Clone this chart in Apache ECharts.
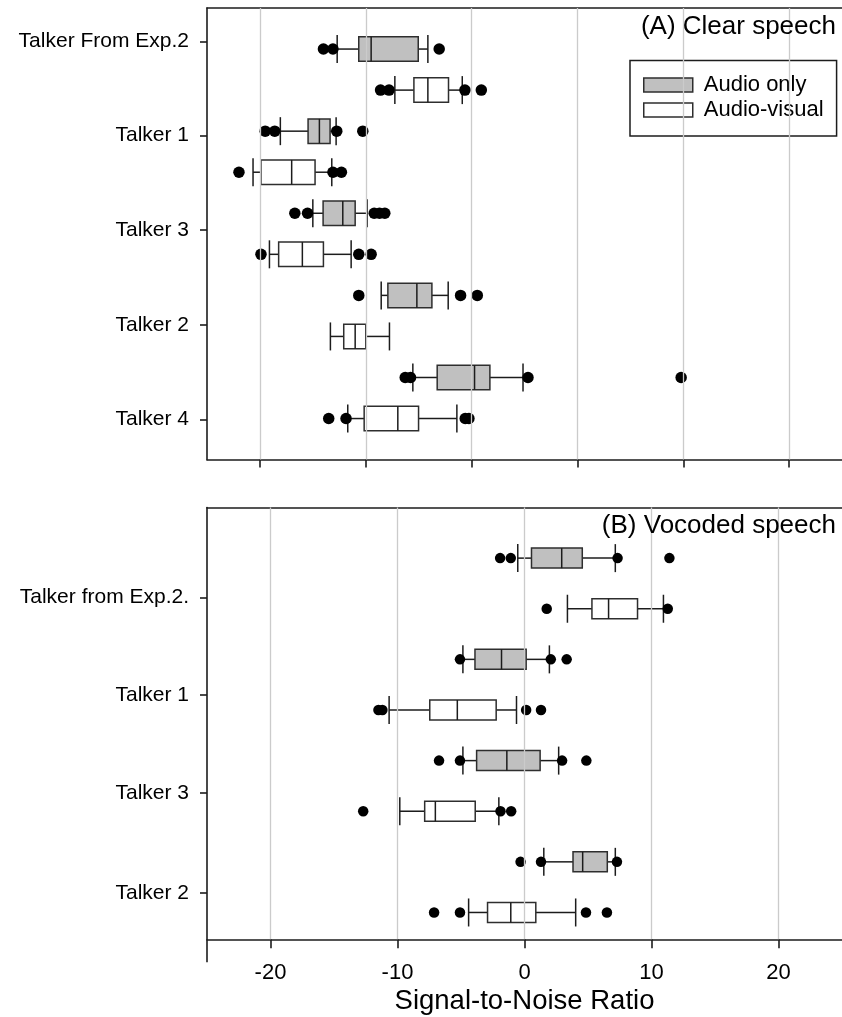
<!DOCTYPE html>
<html>
<head>
<meta charset="utf-8">
<script src="https://cdn.jsdelivr.net/npm/echarts@6/dist/echarts.min.js"></script>
<style>
  html, body { margin: 0; padding: 0; background: #fff; }
  #chart { width: 842px; height: 1017px; }
</style>
</head>
<body>
<div id="chart"></div>
<script>
// ---- (A) Clear speech ----------------------------------------------------
const clearTalkers = ['Talker From Exp.2', 'Talker 1', 'Talker 3', 'Talker 2', 'Talker 4'];
// each box: [lower whisker, Q1, median, Q3, upper whisker]
const clearAudioOnly = [
  [-12.7, -10.66, -9.49, -5.04, -4.13],
  [-18.07, -15.45, -14.38, -13.37, -12.8],
  [-15.0, -14.03, -12.17, -11.0, -9.87],
  [-8.54, -7.91, -5.17, -3.75, -2.21],
  [-5.55, -3.25, 0.28, 1.73, 4.86]
];
const clearAudioVisual = [
  [-7.25, -5.45, -4.13, -2.18, -0.88],
  [-20.65, -19.9, -17.0, -14.79, -13.21],
  [-19.1, -18.23, -15.99, -14.0, -11.38],
  [-13.34, -12.08, -11.0, -10.0, -7.76],
  [-11.7, -10.15, -6.97, -5.01, -1.39]
];
const clearAudioOnlyOutliers = [
  [-14.0, -13.1, -3.06],
  [-19.5, -18.6, -12.74, -10.28],
  [-16.7, -15.5, -9.2, -8.7, -8.2],
  [-10.66, -1.04, 0.54],
  [-6.27, -5.77, 5.33, 19.8]
];
const clearAudioVisualOutliers = [
  [-8.6, -7.8, -0.63, 0.92],
  [-21.98, -13.1, -12.3],
  [-19.9, -10.66, -9.49],
  [],
  [-13.5, -11.86, -0.6, -0.25]
];
const clearTicks = [-20, -10, 0, 10, 20, 30];
// talker label rows, in box-row units (row 0 = first box)
const clearLabelRows = [-0.19, 2.11, 4.41, 6.72, 9.02];

// ---- (B) Vocoded speech --------------------------------------------------
const vocodedTalkers = ['Talker from Exp.2.', 'Talker 1', 'Talker 3', 'Talker 2'];
const vocodedAudioOnly = [
  [-0.53, 0.55, 2.93, 4.55, 7.15],
  [-4.85, -3.9, -1.81, 0.13, 1.96],
  [-4.85, -3.77, -1.39, 1.23, 2.69],
  [1.52, 3.82, 4.58, 6.52, 7.15]
];
const vocodedAudioVisual = [
  [3.38, 5.31, 6.62, 8.9, 10.94],
  [-10.66, -7.46, -5.29, -2.23, -0.63],
  [-9.82, -7.86, -7.02, -3.88, -2.02],
  [-4.4, -2.91, -1.08, 0.89, 4.03]
];
const vocodedAudioOnlyOutliers = [
  [-1.92, -1.08, 7.33, 11.41],
  [-5.08, 2.07, 3.32],
  [-6.73, -5.08, 2.96, 4.87],
  [-0.31, 1.3, 7.28]
];
const vocodedAudioVisualOutliers = [
  [1.75, 11.28],
  [-11.5, -11.19, 0.13, 1.3],
  [-12.7, -1.89, -1.05],
  [-7.12, -5.08, 4.84, 6.49]
];
const vocodedTicks = [-20, -10, 0, 10, 20];
const vocodedLabelRows = [0.78, 2.70, 4.64, 6.61];

const seriesNames = ['Audio only', 'Audio-visual'];

// ---- styling ------------------------------------------------------------
const FONT = '"Liberation Sans", Arial, sans-serif';
const INK = '#1c1c1c';
const BOX_EDGE = '#2e2e2e';
const FILL_AO = '#c0c0c0';
const FILL_AV = '#ffffff';
const GRID_LINE = '#cbcbcb';

function nearestIndex(arr, v) {
  let best = 0;
  arr.forEach((a, i) => { if (Math.abs(a - v) < Math.abs(arr[best] - v)) best = i; });
  return best;
}

// box rows: audio-only boxes on even rows, audio-visual on odd rows
function boxData(boxes, offset) {
  return boxes.map((b, t) => [2 * t + offset].concat(b));
}
function outlierData(lists, offset) {
  const out = [];
  lists.forEach((vals, t) => vals.forEach(v => out.push([v, 2 * t + offset])));
  return out;
}

function boxRenderer(boxH, capH) {
  return function (params, api) {
    const row = api.value(0);
    const p = [1, 2, 3, 4, 5].map(i => api.coord([api.value(i), row]));
    const y = p[0][1];
    const fill = api.visual('color');
    const seg = (x1, y1, x2, y2) => ({
      type: 'line', shape: { x1, y1, x2, y2 },
      style: { stroke: INK, lineWidth: 1.5 }
    });
    return {
      type: 'group',
      children: [
        seg(p[0][0], y, p[1][0], y),
        seg(p[3][0], y, p[4][0], y),
        seg(p[0][0], y - capH / 2, p[0][0], y + capH / 2),
        seg(p[4][0], y - capH / 2, p[4][0], y + capH / 2),
        {
          type: 'rect',
          shape: { x: p[1][0], y: y - boxH / 2, width: p[3][0] - p[1][0], height: boxH },
          style: { fill, stroke: BOX_EDGE, lineWidth: 1.5 }
        },
        seg(p[2][0], y - boxH / 2, p[2][0], y + boxH / 2)
      ]
    };
  };
}

function panelSeries(idx, ao, av, aoOut, avOut, ticks, boxH, capH, dot) {
  const dotStyle = { color: '#000', opacity: 1 };
  return [
    {
      // vertical grid lines
      type: 'scatter', xAxisIndex: idx, yAxisIndex: idx, data: [], silent: true, z: 0,
      markLine: {
        silent: true, symbol: ['none', 'none'], animation: false,
        label: { show: false },
        lineStyle: { color: GRID_LINE, width: 1.3, type: 'solid' },
        emphasis: { disabled: true },
        data: ticks.map(v => ({ xAxis: v }))
      }
    },
    {
      name: seriesNames[0], type: 'custom', xAxisIndex: idx, yAxisIndex: idx, z: 2,
      itemStyle: { color: FILL_AO },
      encode: { x: [1, 2, 3, 4, 5], y: 0 },
      renderItem: boxRenderer(boxH, capH),
      data: boxData(ao, 0)
    },
    {
      name: seriesNames[1], type: 'custom', xAxisIndex: idx, yAxisIndex: idx, z: 2,
      itemStyle: { color: FILL_AV },
      encode: { x: [1, 2, 3, 4, 5], y: 0 },
      renderItem: boxRenderer(boxH, capH),
      data: boxData(av, 1)
    },
    {
      name: seriesNames[0], type: 'scatter', xAxisIndex: idx, yAxisIndex: idx, z: 3,
      symbol: 'circle', symbolSize: dot, itemStyle: dotStyle,
      data: outlierData(aoOut, 0)
    },
    {
      name: seriesNames[1], type: 'scatter', xAxisIndex: idx, yAxisIndex: idx, z: 3,
      symbol: 'circle', symbolSize: dot, itemStyle: dotStyle,
      data: outlierData(avOut, 1)
    }
  ];
}

const axisLineStyle = { color: INK, width: 1.6 };

function yAxisFor(idx, rows, names, min, max) {
  return {
    gridIndex: idx, type: 'value', inverse: true, min, max,
    axisLine: { show: true, onZero: false, lineStyle: axisLineStyle },
    axisTick: { show: true, customValues: rows, length: 7, lineStyle: axisLineStyle },
    axisLabel: {
      customValues: rows, margin: 18, fontSize: 21, color: '#000', fontFamily: FONT,
      formatter: v => names[nearestIndex(rows, v)]
    },
    splitLine: { show: false }
  };
}

// plain frame line along the top of a panel
function topFrame(idx, min, max) {
  return {
    gridIndex: idx, type: 'value', position: 'top', min, max,
    axisLine: { show: true, onZero: false, lineStyle: axisLineStyle },
    axisTick: { show: false }, axisLabel: { show: false }, splitLine: { show: false }
  };
}

const chart = echarts.init(document.getElementById('chart'), null, { renderer: 'canvas' });

const option = {
  animation: false,
  backgroundColor: '#fff',
  textStyle: { fontFamily: FONT },
  title: [
    { text: '(A) Clear speech', right: 6, top: 14, padding: 0,
      textStyle: { fontSize: 26, fontWeight: 'normal', color: '#000', fontFamily: FONT } },
    { text: '(B) Vocoded speech', right: 6, top: 513, padding: 0,
      textStyle: { fontSize: 26, fontWeight: 'normal', color: '#000', fontFamily: FONT } }
  ],
  legend: {
    orient: 'vertical', left: 630, top: 60.5,
    padding: [13.5, 13, 15, 13],
    borderColor: INK, borderWidth: 1.5, backgroundColor: '#fff',
    itemWidth: 49, itemHeight: 14, itemGap: 3,
    selectedMode: false,
    textStyle: { fontSize: 22, color: '#000', fontFamily: FONT, padding: [0, 0, 0, 6] },
    data: [
      { name: seriesNames[0], icon: 'rect', itemStyle: { color: FILL_AO, borderColor: BOX_EDGE, borderWidth: 1.5 } },
      { name: seriesNames[1], icon: 'rect', itemStyle: { color: FILL_AV, borderColor: BOX_EDGE, borderWidth: 1.5 } }
    ]
  },
  grid: [
    { left: 207, top: 8, right: 0, height: 451.6 },
    { left: 207, top: 507.5, right: 0, height: 431.8 }
  ],
  xAxis: [
    {
      gridIndex: 0, type: 'value', min: -25, max: 35,
      axisLine: { show: true, onZero: false, lineStyle: axisLineStyle },
      axisTick: { show: true, customValues: clearTicks, length: 8, lineStyle: axisLineStyle },
      axisLabel: { show: false },
      splitLine: { show: false }
    },
    {
      gridIndex: 1, type: 'value', min: -25, max: 25,
      axisLine: { show: true, onZero: false, lineStyle: axisLineStyle },
      axisTick: { show: true, customValues: vocodedTicks, length: 9, lineStyle: axisLineStyle },
      axisLabel: { customValues: vocodedTicks, margin: 23, fontSize: 22, color: '#000', fontFamily: FONT },
      splitLine: { show: false },
      name: 'Signal-to-Noise Ratio', nameLocation: 'middle', nameGap: 48,
      nameTextStyle: { fontSize: 27.5, color: '#000', fontFamily: FONT }
    },
    topFrame(0, -25, 35),
    topFrame(1, -25, 25)
  ],
  yAxis: [
    yAxisFor(0, clearLabelRows, clearTalkers, -1, 10),
    yAxisFor(1, vocodedLabelRows, vocodedTalkers, -1, 7.53)
  ],
  series: [].concat(
    panelSeries(0, clearAudioOnly, clearAudioVisual, clearAudioOnlyOutliers, clearAudioVisualOutliers,
      clearTicks, 24.5, 28, 11.5),
    panelSeries(1, vocodedAudioOnly, vocodedAudioVisual, vocodedAudioOnlyOutliers, vocodedAudioVisualOutliers,
      vocodedTicks, 20, 28, 10.5)
  )
};

chart.setOption(option);

// the lower panel's left axis runs a little past the x axis
const corner = chart.convertToPixel({ gridIndex: 1 }, [-25, 7.53]);
chart.setOption({
  graphic: [{
    type: 'line', silent: true,
    shape: { x1: corner[0], y1: corner[1], x2: corner[0], y2: corner[1] + 23 },
    style: { stroke: INK, lineWidth: 1.6 }
  }]
});
</script>
</body>
</html>
